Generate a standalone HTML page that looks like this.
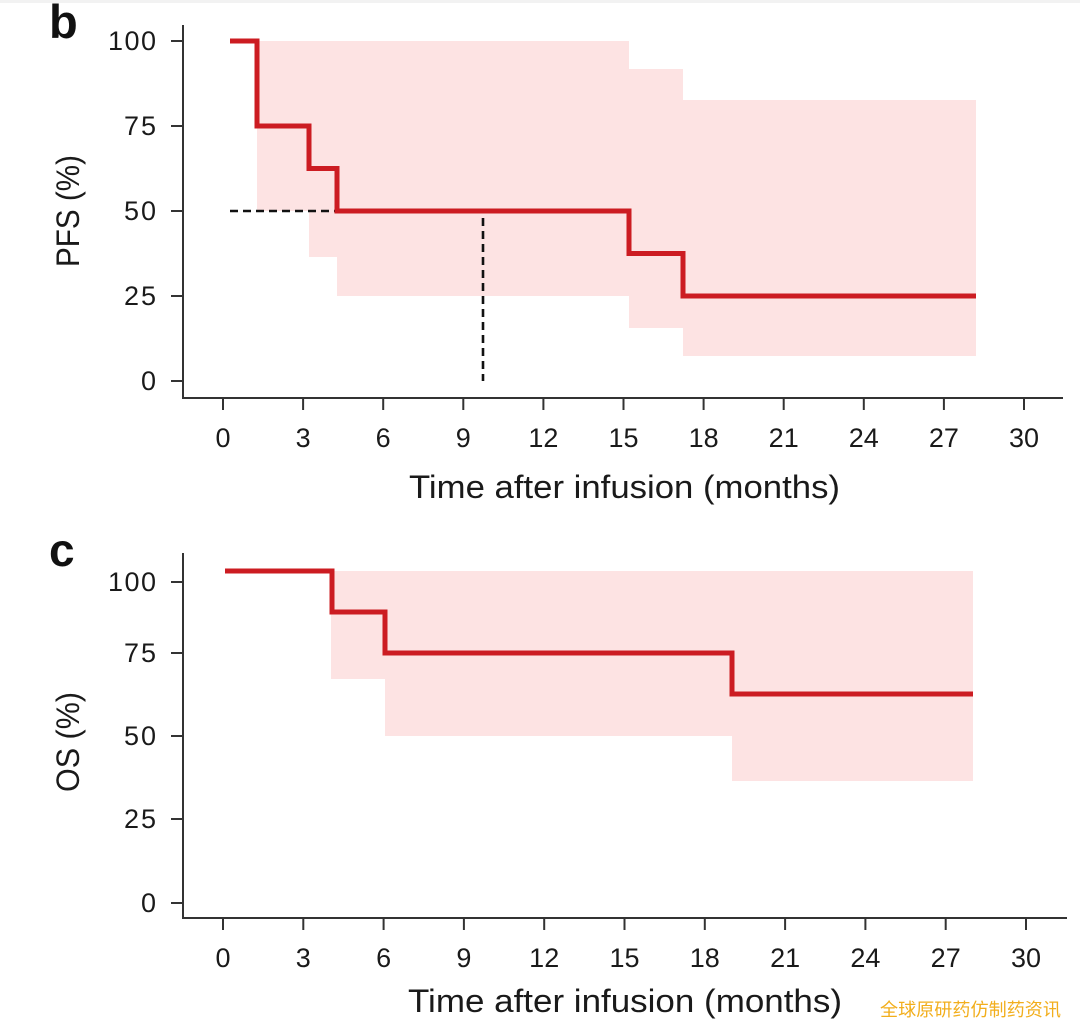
<!DOCTYPE html>
<html><head><meta charset="utf-8"><style>
html,body{margin:0;padding:0;background:#fff;}
svg{display:block;}
text{font-family:"Liberation Sans","Noto Sans CJK SC",sans-serif;fill:#1a1a1a;}
</style></head><body>
<svg width="1080" height="1033" viewBox="0 0 1080 1033" xmlns="http://www.w3.org/2000/svg">
<rect x="0" y="0" width="1080" height="1033" fill="#fff"/>
<rect x="0" y="0" width="1080" height="3" fill="#f2f2f2"/>

<!-- ===== Panel b ===== -->
<text x="49" y="38" style="font-weight:bold;font-size:47px;fill:#111">b</text>
<g fill="#fde3e3">
  <rect x="257" y="41" width="52" height="170"/>
  <rect x="309" y="41" width="28" height="216"/>
  <rect x="337" y="41" width="292" height="255"/>
  <rect x="629" y="69" width="54" height="259"/>
  <rect x="683" y="100" width="293" height="256"/>
</g>
<path d="M230,211 H483 V381" fill="none" stroke="#111" stroke-width="2.6" stroke-dasharray="8,5"/>
<path d="M230,41 H257 V126 H309 V168.5 H337 V211 H629 V253.5 H683 V296 H976" fill="none" stroke="#cc1c22" stroke-width="5" stroke-linejoin="miter"/>
<!-- axes -->
<g stroke="#333" stroke-width="2" fill="none">
  <path d="M183,25 V398 H1063"/>
  <path d="M171,41 H183 M171,126 H183 M171,211 H183 M171,296 H183 M171,381 H183"/>
  <path d="M223,398 V410 M303.1,398 V410 M383.2,398 V410 M463.3,398 V410 M543.4,398 V410 M623.5,398 V410 M703.6,398 V410 M783.7,398 V410 M863.8,398 V410 M943.9,398 V410 M1024,398 V410"/>
</g>
<g style="font-size:27px" text-anchor="end">
  <text x="156" y="50" textLength="48">100</text>
  <text x="156" y="135" textLength="32">75</text>
  <text x="156" y="220" textLength="32">50</text>
  <text x="156" y="305" textLength="32">25</text>
  <text x="156" y="390">0</text>
</g>
<g style="font-size:27px" text-anchor="middle">
  <text x="223" y="447">0</text>
  <text x="303.1" y="447">3</text>
  <text x="383.2" y="447">6</text>
  <text x="463.3" y="447">9</text>
  <text x="543.4" y="447">12</text>
  <text x="623.5" y="447">15</text>
  <text x="703.6" y="447">18</text>
  <text x="783.7" y="447">21</text>
  <text x="863.8" y="447">24</text>
  <text x="943.9" y="447">27</text>
  <text x="1024" y="447">30</text>
</g>
<text x="409" y="498" style="font-size:32px" textLength="431" lengthAdjust="spacingAndGlyphs">Time after infusion (months)</text>
<text transform="translate(79,211) rotate(-90)" text-anchor="middle" style="font-size:32px" textLength="112" lengthAdjust="spacingAndGlyphs">PFS (%)</text>

<!-- ===== Panel c ===== -->
<text x="49" y="566" style="font-weight:bold;font-size:46px;fill:#111">c</text>
<g fill="#fde3e3">
  <rect x="331" y="571" width="54" height="108"/>
  <rect x="385" y="571" width="347" height="165"/>
  <rect x="732" y="571" width="241" height="210"/>
</g>
<path d="M225,571 H332 V612 H385 V653 H732 V694 H973" fill="none" stroke="#cc1c22" stroke-width="5"/>
<g stroke="#333" stroke-width="2" fill="none">
  <path d="M183,553 V918 H1067"/>
  <path d="M171,582 H183 M171,653 H183 M171,736 H183 M171,819 H183 M171,903 H183"/>
  <path d="M223,918 V930 M303.3,918 V930 M383.6,918 V930 M463.9,918 V930 M544.2,918 V930 M624.5,918 V930 M704.8,918 V930 M785.1,918 V930 M865.4,918 V930 M945.7,918 V930 M1026,918 V930"/>
</g>
<g style="font-size:27px" text-anchor="end">
  <text x="156" y="591" textLength="48">100</text>
  <text x="156" y="662" textLength="32">75</text>
  <text x="156" y="745" textLength="32">50</text>
  <text x="156" y="828" textLength="32">25</text>
  <text x="156" y="912">0</text>
</g>
<g style="font-size:27px" text-anchor="middle">
  <text x="223" y="967">0</text>
  <text x="303.3" y="967">3</text>
  <text x="383.6" y="967">6</text>
  <text x="463.9" y="967">9</text>
  <text x="544.2" y="967">12</text>
  <text x="624.5" y="967">15</text>
  <text x="704.8" y="967">18</text>
  <text x="785.1" y="967">21</text>
  <text x="865.4" y="967">24</text>
  <text x="945.7" y="967">27</text>
  <text x="1026" y="967">30</text>
</g>
<text x="408" y="1012" style="font-size:32px" textLength="434" lengthAdjust="spacingAndGlyphs">Time after infusion (months)</text>
<text transform="translate(79,742) rotate(-90)" text-anchor="middle" style="font-size:32px" textLength="100" lengthAdjust="spacingAndGlyphs">OS (%)</text>

<!-- watermark -->
<text x="880" y="1016" style="font-size:18px;fill:#f2ae1c" textLength="181" lengthAdjust="spacingAndGlyphs">全球原研药仿制药资讯</text>
</svg>
</body></html>
